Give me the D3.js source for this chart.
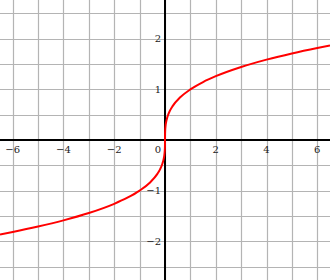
<!DOCTYPE html>
<html><head><meta charset="utf-8">
<script src="https://cdn.jsdelivr.net/npm/d3@7"></script>
<style>html,body{margin:0;padding:0;background:#fff;}svg{display:block;}</style>
</head><body>
<svg id="c" width="330" height="280"></svg>
<script>
const xValues = [-6.5,-6,-5,-4,-3,-2,-1.5,-1,-0.6,-0.3,-0.2,-0.1,-0.05,-0.02,-0.005,-0.001,0,0.001,0.005,0.02,0.05,0.1,0.2,0.3,0.6,1,1.5,2,3,4,5,6,6.5];
const yValues = [-1.866,-1.817,-1.71,-1.587,-1.442,-1.26,-1.145,-1,-0.843,-0.669,-0.585,-0.464,-0.368,-0.271,-0.171,-0.1,0,0.1,0.171,0.271,0.368,0.464,0.585,0.669,0.843,1,1.145,1.26,1.442,1.587,1.71,1.817,1.866];
const xTickLabels = [-6,-4,-2,2,4,6];
const yTickLabels = [-2,-1,1,2];

const W = 330, H = 280;
const svg = d3.select("#c");
const x = d3.scaleLinear().domain([-6.5, 6.5]).range([0, W]);
const y = d3.scaleLinear().domain([-2.765, 2.765]).range([H, 0]);

const xGrid = d3.range(-6, 7, 1);
const yGrid = d3.range(-2.5, 2.6, 0.5);
const g = svg.append("g");
g.selectAll(".vg").data(xGrid).enter().append("line")
  .attr("x1", d => Math.round(x(d)) + 0.5).attr("x2", d => Math.round(x(d)) + 0.5)
  .attr("y1", 0).attr("y2", H).attr("stroke", "#b4b4b4").attr("stroke-width", 1.2);
g.selectAll(".hg").data(yGrid).enter().append("line")
  .attr("y1", d => Math.round(y(d)) + 0.5).attr("y2", d => Math.round(y(d)) + 0.5)
  .attr("x1", 0).attr("x2", W).attr("stroke", "#b4b4b4").attr("stroke-width", 1.2);

// axes
svg.append("line").attr("x1", 0).attr("x2", W).attr("y1", y(0)).attr("y2", y(0))
  .attr("stroke", "#000").attr("stroke-width", 2);
svg.append("line").attr("x1", x(0)).attr("x2", x(0)).attr("y1", 0).attr("y2", H)
  .attr("stroke", "#000").attr("stroke-width", 2);

const font = "DejaVu Serif";
svg.selectAll(".xl").data(xTickLabels).enter().append("text")
  .attr("x", d => x(d)).attr("y", y(0) + 13)
  .attr("text-anchor", "middle").attr("font-family", font).attr("font-size", 10)
  .attr("fill", "#222").text(d => d < 0 ? "\u2212" + Math.abs(d) : d);
svg.selectAll(".yl").data(yTickLabels).enter().append("text")
  .attr("x", x(0) - 4).attr("y", d => y(d) + 3.5)
  .attr("text-anchor", "end").attr("font-family", font).attr("font-size", 10)
  .attr("fill", "#222").text(d => d < 0 ? "\u2212" + Math.abs(d) : d);
svg.append("text").attr("x", x(0) - 4).attr("y", y(0) + 13)
  .attr("text-anchor", "end").attr("font-family", font).attr("font-size", 10)
  .attr("fill", "#222").text("0");

const pts = xValues.map((v, i) => [v, yValues[i]]);
const line = d3.line().x(d => x(d[0])).y(d => y(d[1])).curve(d3.curveMonotoneX);
svg.append("path").datum(pts).attr("d", line)
  .attr("fill", "none").attr("stroke", "#f00").attr("stroke-width", 2);
</script>
</body></html>
